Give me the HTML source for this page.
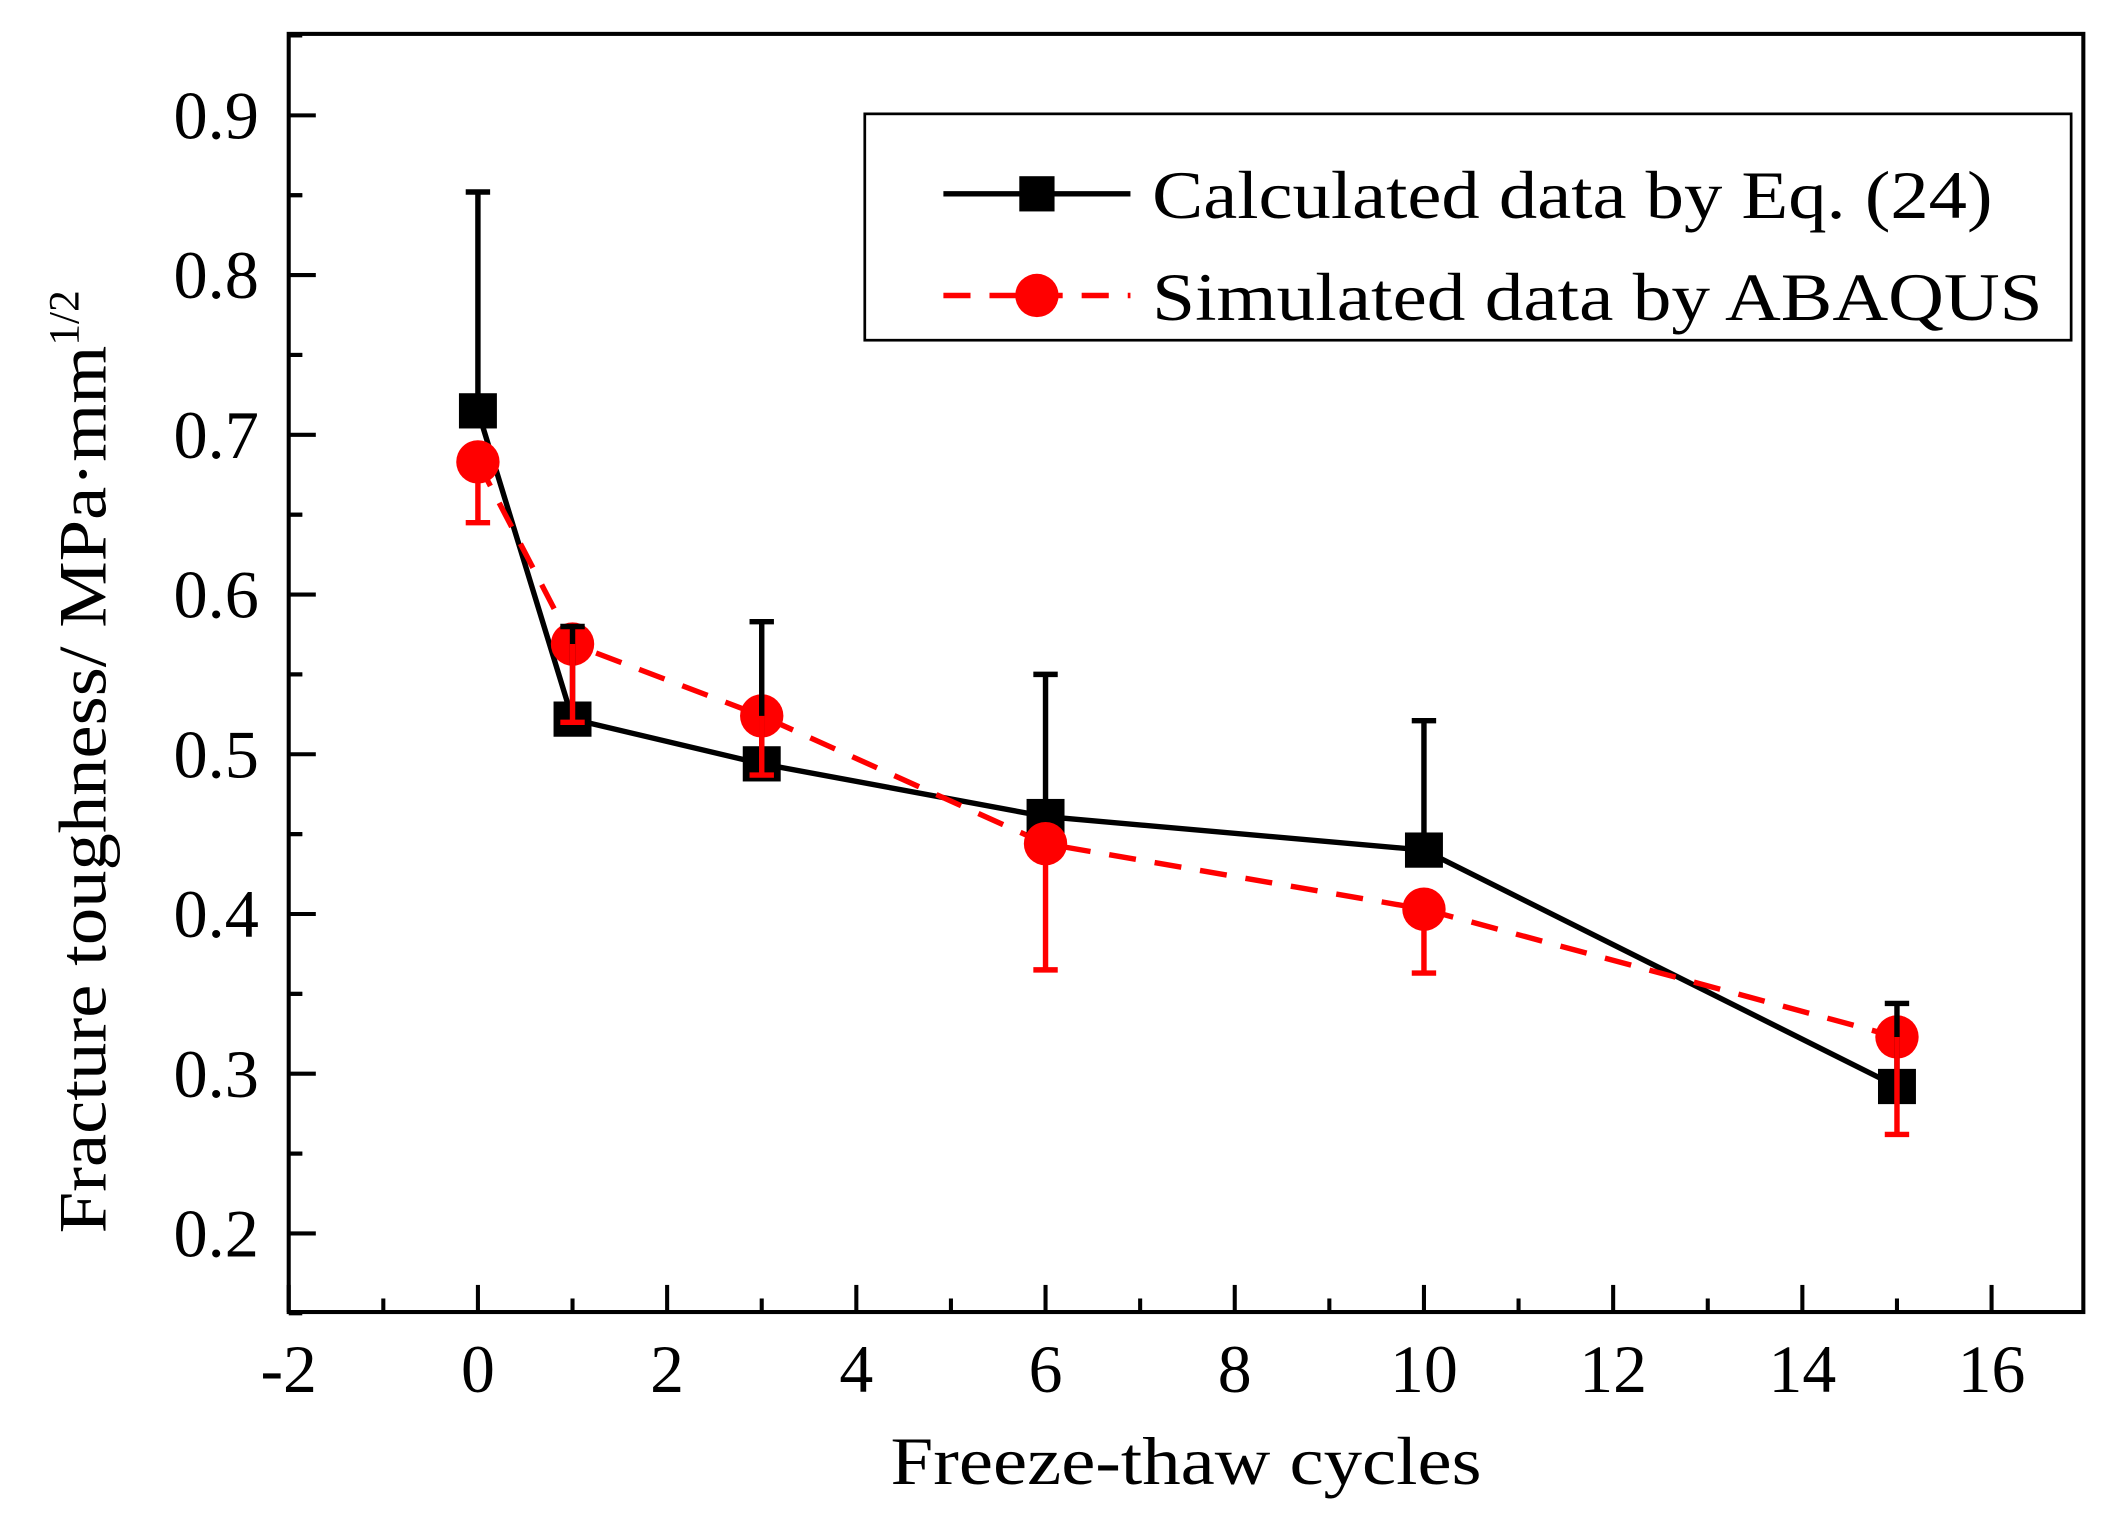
<!DOCTYPE html>
<html><head><meta charset="utf-8"><style>
html,body{margin:0;padding:0;background:#fff}
svg{display:block}
text{font-family:"Liberation Serif",serif;fill:#000}
</style></head><body>
<svg id="chart" width="2124" height="1535" viewBox="0 0 1567 1132.5" preserveAspectRatio="none" xmlns="http://www.w3.org/2000/svg">
<g id="axes"></g>
<g id="series"></g>
<g id="legend">
<rect x="638" y="84" width="890" height="167" fill="#fff" stroke="#000" stroke-width="2"/>
<g>
<line x1="696" y1="143" x2="834" y2="143" stroke="#000" stroke-width="4"/>
<rect x="752" y="130" width="26" height="26" fill="#000"/>
<text x="850" y="161" font-size="50" textLength="620" lengthAdjust="spacingAndGlyphs">Calculated data by Eq. (24)</text>
</g>
<g>
<line x1="696" y1="218" x2="834" y2="218" stroke="#f00" stroke-width="4" stroke-dasharray="20,14"/>
<circle cx="765" cy="218" r="16" fill="#f00"/>
<text x="850" y="236" font-size="50" textLength="657" lengthAdjust="spacingAndGlyphs">Simulated data by ABAQUS</text>
</g>
</g>
<text x="657" y="1095" font-size="50" textLength="436" lengthAdjust="spacingAndGlyphs">Freeze-thaw cycles</text>
<text transform="translate(78,910) rotate(-90)" font-size="50"><tspan textLength="655" lengthAdjust="spacingAndGlyphs">Fracture toughness/ MPa·mm</tspan><tspan dy="-20" font-size="32">1/2</tspan></text>
</svg>
<script>
const cycles = [0, 1, 3, 6, 10, 15];
const calcValues = [0.715, 0.522, 0.494, 0.461, 0.44, 0.292];
const calcUpper = [0.852, 0.58, 0.583, 0.55, 0.521, 0.344];
const simValues = [0.683, 0.569, 0.524, 0.444, 0.403, 0.323];
const simLower = [0.645, 0.52, 0.487, 0.365, 0.363, 0.262];
const xTicks = [-2, 0, 2, 4, 6, 8, 10, 12, 14, 16];
const yTicks = [0.2, 0.3, 0.4, 0.5, 0.6, 0.7, 0.8, 0.9];

const L = 213, R = 1537, T = 25, B = 968;
const xMin = -2, xMax = 16.97, yMin = 0.1508, yMax = 0.951;
const X = v => L + (v - xMin) / (xMax - xMin) * (R - L);
const Y = v => B - (v - yMin) / (yMax - yMin) * (B - T);
const NS = 'http://www.w3.org/2000/svg';
function mk(parent, tag, attrs) {
  const el = document.createElementNS(NS, tag);
  for (const k in attrs) el.setAttribute(k, attrs[k]);
  parent.appendChild(el);
  return el;
}
const axes = document.getElementById('axes');
const ser = document.getElementById('series');

const frame = mk(axes, 'rect', {x: L, y: T, width: R - L, height: B - T, fill: 'none', stroke: '#000', 'stroke-width': 3});



xTicks.forEach(t => {
  const x = X(t);
  const tk = mk(axes, 'line', {x1: x, y1: B, x2: x, y2: B - 20, stroke: '#000', 'stroke-width': 3});
  
  
  const m = X(t + 1);
  if (t + 1 < xMax) {
    const mn = mk(axes, 'line', {x1: m, y1: B, x2: m, y2: B - 10, stroke: '#000', 'stroke-width': 3});
    
    
  }
  const lb = mk(axes, 'text', {x: x, y: B + 59, 'font-size': 50, 'text-anchor': 'middle'});
  lb.textContent = t;
  
  
});
yTicks.forEach(t => {
  const y = Y(t);
  const tk = mk(axes, 'line', {x1: L, y1: y, x2: L + 20, y2: y, stroke: '#000', 'stroke-width': 3});
  
  
  [t - 0.05, t + 0.05].forEach(v => {
    const my = Y(v);
    const mn = mk(axes, 'line', {x1: L, y1: my, x2: L + 10, y2: my, stroke: '#000', 'stroke-width': 3});
    
    
  });
  const lb = mk(axes, 'text', {x: L - 22, y: y + 17, 'font-size': 50, 'text-anchor': 'end', textLength: 63, lengthAdjust: 'spacingAndGlyphs'});
  lb.textContent = t.toFixed(1);
  
  
});

const pts = (vals) => cycles.map((c, i) => X(c) + ',' + Y(vals[i])).join(' ');
const calcLine = mk(ser, 'polyline', {points: pts(calcValues), fill: 'none', stroke: '#000', 'stroke-width': 4});


const simLine = mk(ser, 'polyline', {points: pts(simValues), fill: 'none', stroke: '#f00', 'stroke-width': 4, 'stroke-dasharray': '20,14'});



cycles.forEach((c, i) => {
  const x = X(c);
  const sq = mk(ser, 'rect', {x: x - 14, y: Y(calcValues[i]) - 13, width: 28, height: 26, fill: '#000'});
  
  
});
cycles.forEach((c, i) => {
  const x = X(c);
  const ci = mk(ser, 'circle', {cx: x, cy: Y(simValues[i]), r: 16, fill: '#f00'});
  
  
});
cycles.forEach((c, i) => {
  const x = X(c);
  const e1 = mk(ser, 'path', {d: `M${x},${Y(calcValues[i])} V${Y(calcUpper[i])} M${x-9},${Y(calcUpper[i])} H${x+9}`, stroke: '#000', 'stroke-width': 4, fill: 'none'});
  
  
  const e2 = mk(ser, 'path', {d: `M${x},${Y(simValues[i])} V${Y(simLower[i])} M${x-9},${Y(simLower[i])} H${x+9}`, stroke: '#f00', 'stroke-width': 4, fill: 'none'});
  
  
});
</script>
</body></html>
